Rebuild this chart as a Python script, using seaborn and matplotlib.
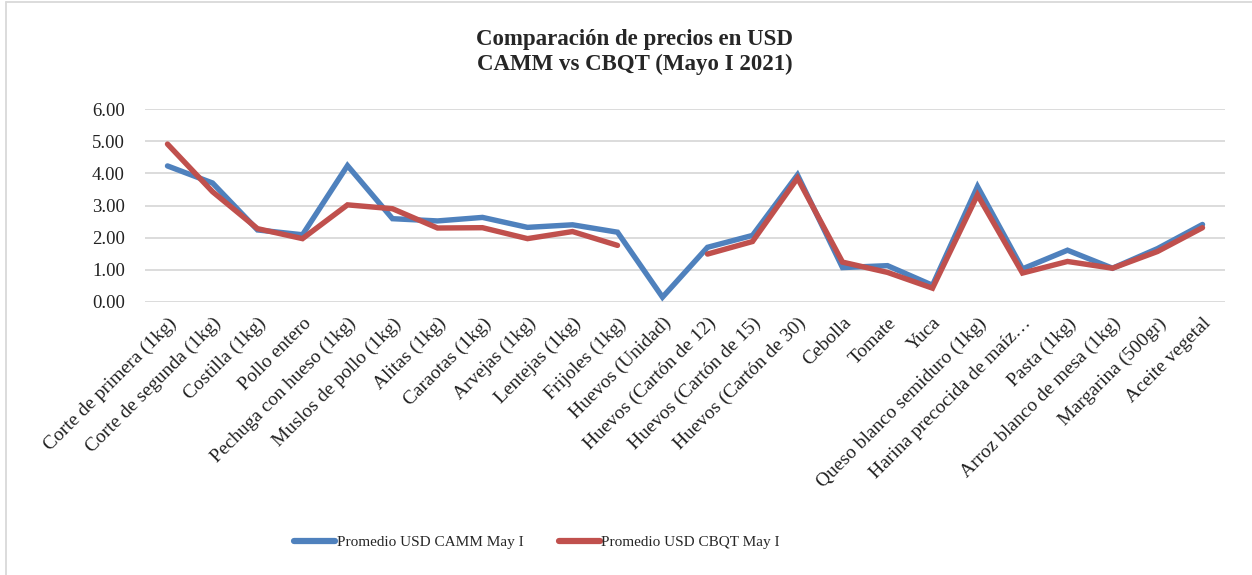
"""
Comparación de precios en USD - CAMM vs CBQT (Mayo I 2021)
"""

import numpy as np
import pandas as pd
import matplotlib
matplotlib.use('Agg')
import matplotlib.pyplot as plt
from matplotlib.lines import Line2D
import seaborn as sns

# Data
productos = [
    'Corte de primera (1kg)', 'Corte de segunda (1kg)', 'Costilla (1kg)', 'Pollo entero',
    'Pechuga con hueso (1kg)', 'Muslos de pollo (1kg)', 'Alitas (1kg)', 'Caraotas (1kg)',
    'Arvejas (1kg)', 'Lentejas (1kg)', 'Frijoles (1kg)', 'Huevos (Unidad)',
    'Huevos (Cartón de 12)', 'Huevos (Cartón de 15)', 'Huevos (Cartón de 30)', 'Cebolla',
    'Tomate', 'Yuca', 'Queso blanco semiduro (1kg)', 'Harina precocida de maíz…',
    'Pasta (1kg)', 'Arroz blanco de mesa (1kg)', 'Margarina (500gr)', 'Aceite vegetal',
]
camm = [4.23, 3.70, 2.24, 2.09, 4.24, 2.59, 2.52, 2.63, 2.32, 2.40, 2.17, 0.15,
        1.70, 2.07, 3.95, 1.07, 1.13, 0.52, 3.59, 1.03, 1.61, 1.05, 1.66, 2.41]
cbqt = [4.91, 3.43, 2.28, 1.97, 3.02, 2.90, 2.30, 2.31, 1.97, 2.19, 1.76, np.nan,
        1.49, 1.88, 3.85, 1.24, 0.92, 0.43, 3.33, 0.90, 1.26, 1.05, 1.57, 2.31]
series_names = ['Promedio USD CAMM May I', 'Promedio USD CBQT May I']
colors = ['#4F81BD', '#C0504D']

# Long format; split each series into segments at missing values
rows = []
for name, vals in zip(series_names, [camm, cbqt]):
    seg = 0
    for prod, v in zip(productos, vals):
        if np.isnan(v):
            seg += 1
            continue
        rows.append({'producto': prod, 'valor': v, 'serie': name, 'seg': f'{name}-{seg}'})
df = pd.DataFrame(rows)

sns.set_theme(style='white')
plt.rcParams['font.family'] = ['Liberation Serif', 'DejaVu Serif']

fig = plt.figure(figsize=(12.52, 5.75), dpi=100)
ax = fig.add_axes([145 / 1252, 1 - 302 / 575, 1080 / 1252, 193 / 575])

sns.lineplot(data=df, x='producto', y='valor', hue='serie', units='seg', estimator=None,
             palette=colors, linewidth=3.9, sort=False, ax=ax, legend=False,
             solid_capstyle='round', solid_joinstyle='miter')

ax.set_xlim(-0.5, len(productos) - 0.5)
ax.set_ylim(0, 6)
ax.set_yticks(np.arange(0, 7, 1))
ax.set_yticklabels([f'{t:.2f}' for t in np.arange(0, 7, 1)], fontsize=13.5, color='#222222')
ax.set_xticks(range(len(productos)))
ax.set_xticklabels(productos, rotation=45, ha='right', rotation_mode='anchor',
                   fontsize=14, color='#222222')
ax.tick_params(axis='both', length=0)
ax.tick_params(axis='y', pad=14.5)
ax.tick_params(axis='x', pad=9)
ax.yaxis.grid(True, color='#D9D9D9', linewidth=1.3)
ax.set_axisbelow(True)
for s in ax.spines.values():
    s.set_visible(False)
ax.set_xlabel('')
ax.set_ylabel('')

fig.text(0.507, 1 - 52 / 575, 'Comparación de precios en USD\nCAMM vs CBQT (Mayo I 2021)',
         ha='center', va='center', fontsize=16.5, fontweight='bold', linespacing=1.25)

handles = [Line2D([0], [0], color=c, linewidth=4.5, solid_capstyle='round') for c in colors]
fig.legend(handles, series_names, loc='center', bbox_to_anchor=(537 / 1252, 1 - 542 / 575),
           ncol=2, frameon=False, fontsize=11, handlelength=2.7, handletextpad=0.1,
           columnspacing=2.3)

# chart border (left and top visible in reference)
fig.add_artist(Line2D([6 / 1252, 6 / 1252], [0, 1 - 2 / 575], color='#D9D9D9', linewidth=1.3,
                      transform=fig.transFigure))
fig.add_artist(Line2D([6 / 1252, 1], [1 - 2 / 575, 1 - 2 / 575], color='#D9D9D9', linewidth=1.3,
                      transform=fig.transFigure))

fig.savefig('out.png', dpi=100)
plt.close(fig)
